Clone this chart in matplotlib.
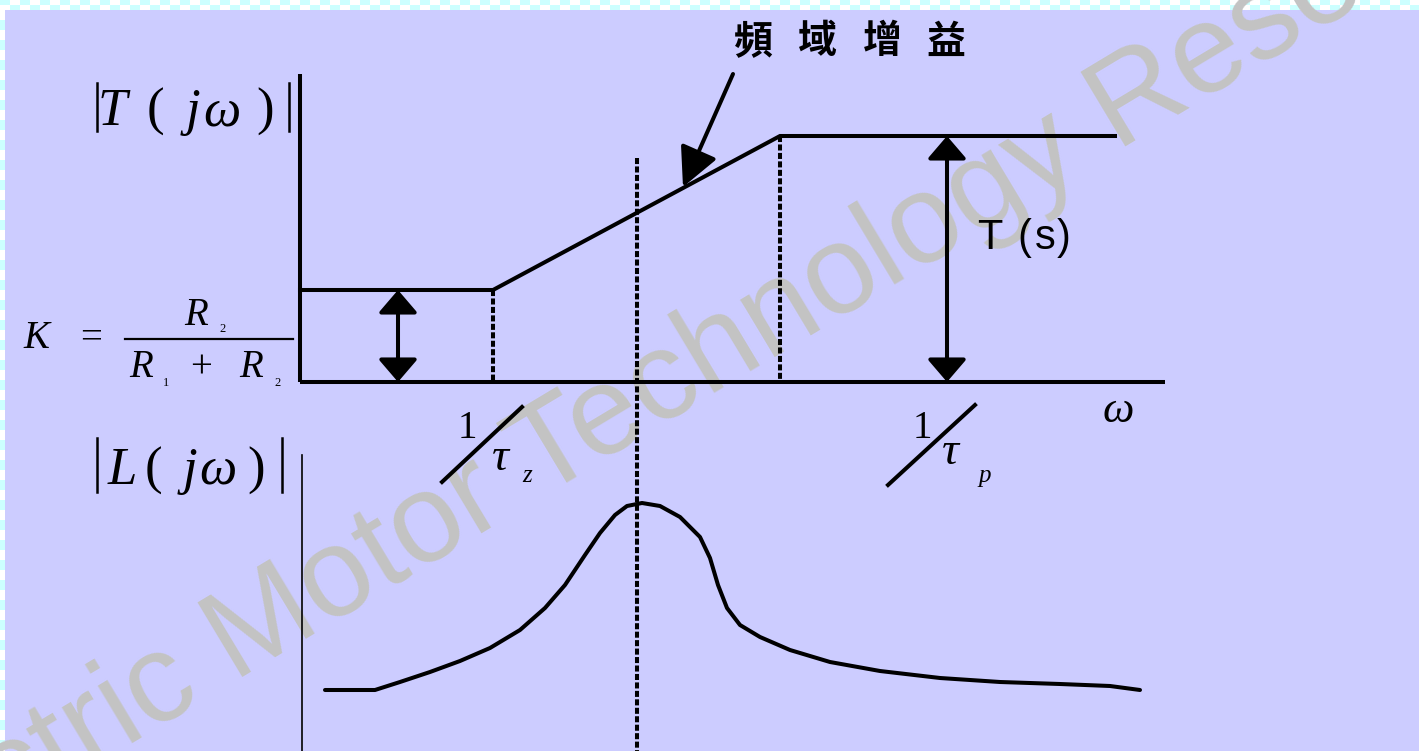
import numpy as np
import matplotlib
matplotlib.use("Agg")
import matplotlib.pyplot as plt
from matplotlib.patches import Rectangle, FancyArrowPatch

W, H = 1419, 751
BG = "#ccccff"
SERIF = ["Liberation Serif", "DejaVu Serif"]
SANS = ["Liberation Sans", "DejaVu Sans"]
CJK = ["Noto Sans CJK TC", "DejaVu Sans"]

# sketch geometry (pixel coords, y grows downward)
axis_x0, axis_x1 = 300, 1165
axis_y0, axis_top = 382, 74
gain_x = [300, 493, 780, 1115]
gain_y = [290, 290, 136, 136]
corner_x = [493, 780]
corner_y = [290, 136]
peak_x = 637
arrow_x = [398, 947]
arrow_top = [290, 136]

loop_x = [325, 375, 400, 430, 460, 490, 520, 545, 565, 585, 600, 615, 627,
          642, 660, 680, 700, 710, 718, 727, 740, 760, 790, 830, 880, 940,
          1000, 1060, 1110, 1140]
loop_y = [690, 690, 682, 672, 661, 648, 630, 608, 585, 555, 533, 515, 506,
          503, 506, 517, 537, 558, 585, 608, 625, 637, 650, 662, 671, 678,
          682, 684, 686, 690]

label_cn = ["頻", "域", "增", "益"]
label_cn_x = [753, 817, 882, 946]

fig = plt.figure(figsize=(W / 100, H / 100), dpi=100)
fig.patch.set_facecolor(BG)
ax = fig.add_axes([0, 0, 1, 1])
ax.set_xlim(0, W)
ax.set_ylim(H, 0)
ax.axis("off")
ax.set_facecolor(BG)

# checkered border on top and left
for i in range(0, W, 10):
    for j, yy in enumerate([0, 5]):
        c = "#ccffff" if ((i // 10 + j) % 2 == 0) else "white"
        ax.add_patch(Rectangle((i, yy), 10, 5, color=c, lw=0, zorder=1))
for j in range(10, H, 10):
    c = "#ccffff" if ((j // 10) % 2 == 0) else "white"
    ax.add_patch(Rectangle((0, j), 5, 10, color=c, lw=0, zorder=1))

# watermark
ax.text(-151, 914, "Electric Motor Technology Research Center",
        family=SANS, fontsize=91, color="#c3c3c3", rotation=31,
        rotation_mode="anchor", ha="left", va="baseline", zorder=2)

LW = 2.9
kw = dict(color="black", lw=LW, solid_capstyle="butt", zorder=5)
dash = dict(color="black", lw=LW, linestyle=(0, (1.5, 0.6)), zorder=5)

# upper plot: axes and gain asymptotes
ax.plot([axis_x0, axis_x0], [axis_top, axis_y0], **kw)
ax.plot([axis_x0, axis_x1], [axis_y0, axis_y0], **kw)
ax.plot(gain_x, gain_y, color="black", lw=LW, solid_joinstyle="miter", zorder=5)
for cx, cy in zip(corner_x, corner_y):
    ax.plot([cx, cx], [cy, axis_y0], **dash)
ax.plot([peak_x, peak_x], [158, H], **dash)

for axx, top in zip(arrow_x, arrow_top):
    ax.add_patch(FancyArrowPatch((axx, top), (axx, axis_y0),
                                 arrowstyle="<|-|>,head_length=14,head_width=12",
                                 mutation_scale=1, color="black", lw=LW,
                                 shrinkA=0, shrinkB=0, zorder=6))

ax.add_patch(FancyArrowPatch((733, 74), (683, 187),
                             arrowstyle="-|>,head_length=24,head_width=12",
                             mutation_scale=1, color="black", lw=LW,
                             shrinkA=0, shrinkB=0, zorder=6))
for ch, cx in zip(label_cn, label_cn_x):
    ax.text(cx, 42, ch, family=CJK, fontsize=28, fontweight="bold",
            ha="center", va="center", zorder=6)

# lower plot
ax.plot([302, 302], [455, H], color="black", lw=1.2, zorder=5)
ax.plot(loop_x, loop_y, color="black", lw=LW, solid_capstyle="round",
        solid_joinstyle="round", zorder=5)


def t(x, y, s, size, italic=False, fam=SERIF, **k):
    ax.text(x, y, s, family=fam, fontsize=size,
            style="italic" if italic else "normal",
            ha=k.pop("ha", "center"), va=k.pop("va", "baseline"), zorder=6, **k)


# |T(jw)|
ax.plot([97, 97], [83, 131], color="black", lw=1.8, zorder=6)
ax.plot([289, 289], [83, 131], color="black", lw=1.8, zorder=6)
t(112, 125, "T", 38, True)
t(155, 125, "(", 38)
t(193, 125, "j", 38, True)
t(222, 125, "ω", 38, True)
t(265, 125, ")", 38)

# |L(jw)|
ax.plot([97, 97], [438, 492], color="black", lw=1.8, zorder=6)
ax.plot([282, 282], [438, 492], color="black", lw=1.8, zorder=6)
t(122, 484, "L", 38, True)
t(153, 484, "(", 38)
t(190, 484, "j", 38, True)
t(218, 484, "ω", 38, True)
t(256, 484, ")", 38)

# K = R2 / (R1 + R2)
t(36, 348, "K", 28, True)
t(91, 348, "=", 28)
ax.plot([125, 293], [339, 339], color="black", lw=1.6, zorder=6)
t(196, 325, "R", 28, True)
t(223, 332, "2", 9)
t(141, 377, "R", 28, True)
t(166, 386, "1", 9)
t(201, 377, "+", 28)
t(251, 377, "R", 28, True)
t(278, 386, "2", 9)

# 1/tau_z, 1/tau_p, omega
ax.plot([442, 522], [482, 407], color="black", lw=LW, zorder=6)
t(467, 438, "1", 28)
t(500, 470, "τ", 34, True)
t(527, 482, "z", 18, True)
ax.plot([888, 975], [485, 405], color="black", lw=LW, zorder=6)
t(922, 438, "1", 28)
t(950, 464, "τ", 34, True)
t(985, 482, "p", 18, True)
t(1118, 422, "ω", 32, True)

# T(s)
t(990, 249, "T", 30, fam=SANS)
t(1024, 249, "(", 30, fam=SANS)
t(1045, 249, "s", 30, fam=SANS)
t(1064, 249, ")", 30, fam=SANS)

fig.savefig("out.png", dpi=100, facecolor=BG)
